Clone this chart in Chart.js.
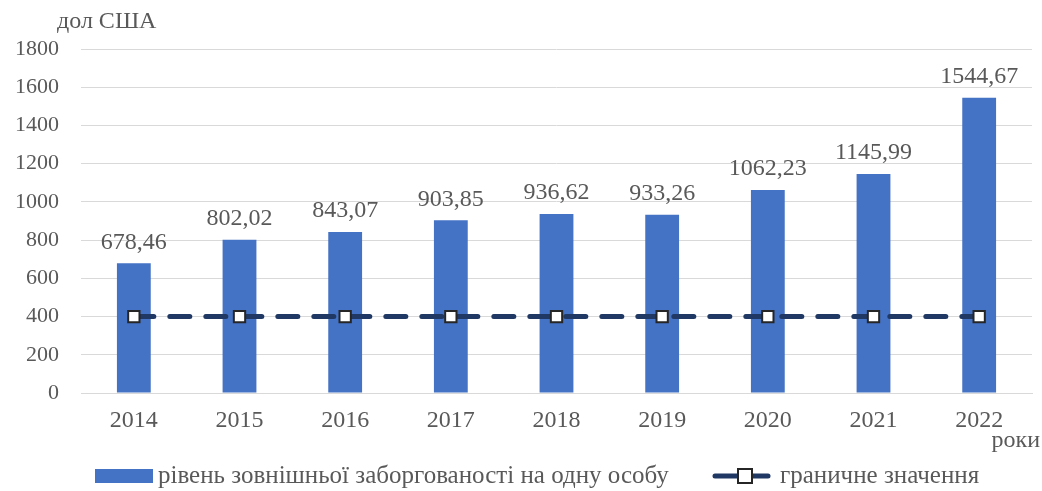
<!DOCTYPE html>
<html><head><meta charset="utf-8">
<script src="https://cdn.jsdelivr.net/npm/chart.js@4"></script>
<style>html,body{margin:0;padding:0;background:#fff;}#wrap{width:1042px;height:491px;position:relative;}</style>
</head><body><div id="wrap"><canvas id="c" width="1042" height="491"></canvas></div>
<script>
const categories = ['2014','2015','2016','2017','2018','2019','2020','2021','2022'];
const debtPerPerson = [678.46, 802.02, 843.07, 903.85, 936.62, 933.26, 1062.23, 1145.99, 1544.67];
const thresholdValues = [400, 400, 400, 400, 400, 400, 400, 400, 400];
const yTicks = [0,200,400,600,800,1000,1200,1400,1600,1800];
const seriesNames = ['рівень зовнішньої заборгованості на одну особу', 'граничне значення'];
const yUnit = 'дол США';
const xUnit = 'роки';

const SERIF = "'Liberation Serif','Times New Roman',serif";
const GRAY = '#595959';
const BLUE = '#4472C4';
const NAVY = '#203864';

const fmt = v => v.toFixed(2).replace('.', ',');

const extras = {
  id: 'extras',
  afterDatasetsDraw(chart) {
    const ctx = chart.ctx;
    const meta = chart.getDatasetMeta(0);
    ctx.save();
    ctx.fillStyle = GRAY;
    ctx.font = '24px ' + SERIF;
    ctx.textAlign = 'center';
    ctx.textBaseline = 'bottom';
    meta.data.forEach((bar, i) => {
      ctx.fillText(fmt(debtPerPerson[i]), bar.x, bar.y - 9);
    });
    ctx.restore();
  },
  afterDraw(chart) {
    const ctx = chart.ctx;
    ctx.save();
    ctx.fillStyle = GRAY;
    ctx.font = '24px ' + SERIF;
    ctx.textBaseline = 'middle';
    ctx.textAlign = 'left';
    ctx.fillText(yUnit, 57, 22);
    ctx.textAlign = 'right';
    ctx.fillText(xUnit, 1040, 441);
    // legend
    const ly = 476;
    ctx.fillStyle = BLUE;
    ctx.fillRect(95, ly - 7, 58, 14);
    ctx.fillStyle = GRAY;
    ctx.textAlign = 'left';
    ctx.font = '25px ' + SERIF;
    ctx.fillText(seriesNames[0], 158, ly);
    ctx.strokeStyle = NAVY;
    ctx.lineWidth = 5;
    ctx.lineCap = 'round';
    ctx.beginPath(); ctx.moveTo(715, ly); ctx.lineTo(768, ly); ctx.stroke();
    ctx.fillStyle = '#fff';
    ctx.fillRect(738, ly - 7, 14, 14);
    ctx.strokeStyle = '#262626';
    ctx.lineWidth = 2;
    ctx.strokeRect(738, ly - 7, 14, 14);
    ctx.fillStyle = GRAY;
    ctx.fillText(seriesNames[1], 780, ly);
    ctx.restore();
  }
};

new Chart(document.getElementById('c'), {
  data: {
    labels: categories,
    datasets: [
      { type: 'bar', label: seriesNames[0], data: debtPerPerson, backgroundColor: BLUE,
        barPercentage: 0.32, categoryPercentage: 1.0, order: 2 },
      { type: 'line', label: seriesNames[1], data: thresholdValues, borderColor: NAVY,
        borderWidth: 5, borderDash: [20, 16], borderCapStyle: 'round',
        pointStyle: 'rect', pointRadius: 8, pointBackgroundColor: '#fff',
        pointBorderColor: '#262626', pointBorderWidth: 2, order: 1 }
    ]
  },
  options: {
    responsive: false,
    animation: false,
    events: [],
    layout: { padding: { top: 49, right: 7, bottom: 52, left: 0 } },
    plugins: { legend: { display: false }, tooltip: { enabled: false } },
    scales: {
      x: {
        grid: { display: false },
        border: { display: true, color: '#D9D9D9', width: 1 },
        ticks: { color: GRAY, font: { family: SERIF, size: 24 }, padding: 5 },
        afterFit(s) { s.height = 46; }
      },
      y: {
        min: 0, max: 1800,
        afterBuildTicks(s) { s.ticks = yTicks.map(v => ({ value: v })); },
        grid: { color: '#D9D9D9', lineWidth: 1, drawTicks: false },
        border: { display: false },
        ticks: { color: GRAY, font: { family: SERIF, size: 22 }, padding: 22,
                 callback: v => String(v) },
        afterFit(s) { s.width = 81; }
      }
    }
  },
  plugins: [extras]
});
</script></body></html>
